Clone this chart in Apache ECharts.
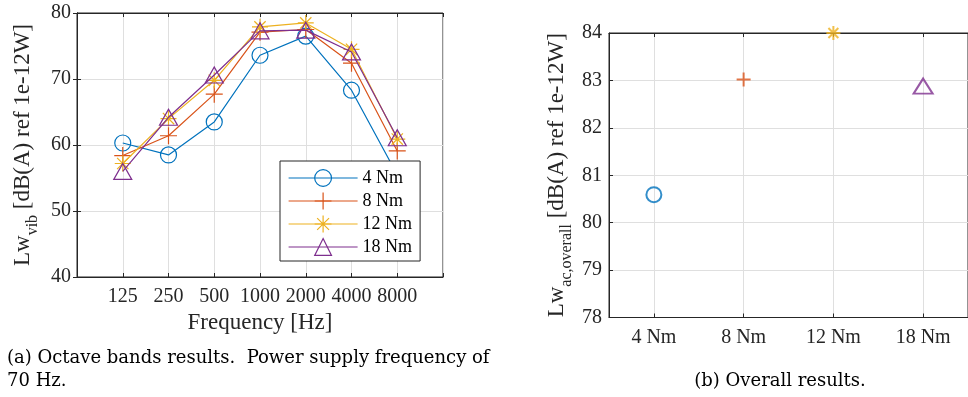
<!DOCTYPE html>
<html>
<head>
<meta charset="utf-8">
<script src="https://cdn.jsdelivr.net/npm/echarts@6/dist/echarts.min.js"></script>
<style>
html,body{margin:0;padding:0;background:#fff;}
#chart{width:968px;height:397px;}
</style>
</head>
<body>
<div id="chart"></div>
<script>
// ---- data ----
const freqs = ['125', '250', '500', '1000', '2000', '4000', '8000'];
const torques = ['4 Nm', '8 Nm', '12 Nm', '18 Nm'];
const lw4  = [60.3, 58.5, 63.5, 73.6, 76.5, 68.3, 55.5];
const lw8  = [58.4, 61.4, 67.7, 77.1, 77.5, 72.4, 59.1];
const lw12 = [57.2, 64.0, 69.8, 77.9, 78.5, 74.5, 60.9];
const lw18 = [56.0, 64.2, 70.6, 77.3, 77.4, 74.1, 61.1];
const overall = [80.59, 83.02, 84.0, 82.88];
const yTicksA = [40, 80, 10];
const yTicksB = [78, 84, 1];

// ---- style ----
const colors = ['#0072BD', '#D95319', '#EDB120', '#7E2F8E'];
const FONT = 'Liberation Serif';
const AX = '#262626';
const GRID = '#dfdfdf';
const PLUS = 'path://M0,-10L0,10M-10,0L10,0';
const STAR = 'path://M0,-10L0,10M-10,0L10,0M-7.07,-7.07L7.07,7.07M-7.07,7.07L7.07,-7.07';
const symbols = ['circle', PLUS, STAR, 'triangle'];
const symSizeA = [16, 17, 16, [18, 16]];
const symSizeB = [15, 14, 14, [19, 15]];
const series4 = [lw4, lw8, lw12, lw18];

// category axis for panel b: half-step slots so grid lines sit at the points
const catB = [''];
torques.forEach(t => { catB.push(t); catB.push(''); });
const odd = (i) => i % 2 === 1;

const chart = echarts.init(document.getElementById('chart'), null, {renderer: 'canvas'});

const series = [];
series4.forEach((arr, k) => {
  series.push({
    name: torques[k],
    type: 'line',
    xAxisIndex: 0, yAxisIndex: 0,
    data: arr.map((v, i) => [i + 1, v]),
    symbol: symbols[k],
    symbolSize: symSizeA[k],
    showSymbol: true,
    lineStyle: {color: colors[k], width: 1.2},
    itemStyle: {color: 'rgba(0,0,0,0)', borderColor: colors[k], borderWidth: 1.2},
    emphasis: {disabled: true},
    animation: false,
    z: 3 + k
  });
});
overall.forEach((v, k) => {
  series.push({
    name: 'overall ' + torques[k],
    type: 'scatter',
    xAxisIndex: 1, yAxisIndex: 1,
    data: [[2 * k + 1, v]],
    symbol: symbols[k],
    symbolSize: symSizeB[k],
    itemStyle: {color: 'rgba(0,0,0,0)', borderColor: colors[k], borderWidth: 2},
    emphasis: {disabled: true},
    animation: false,
    z: 3
  });
});

const tickLbl = {fontFamily: FONT, fontSize: 20, color: AX};
const nameRich = {
  m: {fontFamily: FONT, fontSize: 23, color: AX, lineHeight: 36, verticalAlign: 'middle'},
  s: {fontFamily: FONT, fontSize: 16, color: AX, lineHeight: 14, verticalAlign: 'bottom'}
};

const option = {
  backgroundColor: '#fff',
  animation: false,
  grid: [
    {left: 77, top: 13, width: 366, height: 264, show: true, borderColor: AX, borderWidth: 1, backgroundColor: 'rgba(0,0,0,0)'},
    {left: 609, top: 33, width: 367, height: 284.5, show: true, borderColor: AX, borderWidth: 1, backgroundColor: 'rgba(0,0,0,0)'}
  ],
  xAxis: [
    {
      gridIndex: 0, type: 'value', min: 0, max: freqs.length + 1, interval: 1,
      axisLine: {show: true, lineStyle: {color: AX, width: 1}},
      axisTick: {show: true, inside: true, length: 4, lineStyle: {color: AX}},
      axisLabel: Object.assign({margin: 10, formatter: (v) => freqs[v - 1] || ''}, tickLbl),
      splitLine: {show: true, lineStyle: {color: GRID, width: 1}},
      name: 'Frequency [Hz]', nameLocation: 'middle', nameGap: 34,
      nameTextStyle: {fontFamily: FONT, fontSize: 23, color: AX, lineHeight: 23}
    },
    {
      gridIndex: 1, type: 'category', data: catB, boundaryGap: false,
      axisLine: {show: true, lineStyle: {color: AX, width: 1}},
      axisTick: {show: true, inside: true, length: 4, interval: odd, lineStyle: {color: AX}},
      axisLabel: Object.assign({margin: 10, interval: odd}, tickLbl),
      splitLine: {show: true, interval: odd, lineStyle: {color: GRID, width: 1}}
    },
    {
      gridIndex: 0, type: 'value', position: 'top', min: 0, max: freqs.length + 1, interval: 1,
      axisLine: {show: true, lineStyle: {color: AX}},
      axisTick: {show: true, inside: true, length: 4, lineStyle: {color: AX}},
      axisLabel: {show: false}, splitLine: {show: false}
    },
    {
      gridIndex: 1, type: 'category', position: 'top', data: catB, boundaryGap: false,
      axisLine: {show: true, lineStyle: {color: AX}},
      axisTick: {show: true, inside: true, length: 4, interval: odd, lineStyle: {color: AX}},
      axisLabel: {show: false}, splitLine: {show: false}
    }
  ],
  yAxis: [
    {
      gridIndex: 0, type: 'value', min: yTicksA[0], max: yTicksA[1], interval: yTicksA[2],
      axisLine: {show: true, lineStyle: {color: AX, width: 1}},
      axisTick: {show: true, inside: true, length: 4, lineStyle: {color: AX}},
      axisLabel: Object.assign({margin: 6}, tickLbl),
      splitLine: {show: true, lineStyle: {color: GRID, width: 1}},
      name: '{m|Lw}{s|vib}{m| [dB(A) ref 1e-12W]}', nameLocation: 'middle', nameRotate: 90, nameGap: 36,
      nameTextStyle: {rich: nameRich}
    },
    {
      gridIndex: 1, type: 'value', min: yTicksB[0], max: yTicksB[1], interval: yTicksB[2],
      axisLine: {show: true, lineStyle: {color: AX, width: 1}},
      axisTick: {show: true, inside: true, length: 4, lineStyle: {color: AX}},
      axisLabel: Object.assign({margin: 7}, tickLbl),
      splitLine: {show: true, lineStyle: {color: GRID, width: 1}},
      name: '{m|Lw}{s|ac,overall}{m| [dB(A) ref 1e-12W]}', nameLocation: 'middle', nameRotate: 90, nameGap: 34,
      nameTextStyle: {rich: nameRich}
    },
    {
      gridIndex: 0, type: 'value', position: 'right', min: yTicksA[0], max: yTicksA[1], interval: yTicksA[2],
      axisLine: {show: true, lineStyle: {color: AX}},
      axisTick: {show: true, inside: true, length: 4, lineStyle: {color: AX}},
      axisLabel: {show: false}, splitLine: {show: false}
    }
  ],
  legend: {
    data: torques,
    orient: 'vertical',
    left: 280, top: 161,
    padding: [8, 8, 5, 8],
    itemGap: 5,
    itemWidth: 69,
    itemHeight: 21,
    backgroundColor: '#fff',
    borderColor: AX,
    borderWidth: 1,
    borderRadius: 0,
    selectedMode: false,
    itemStyle: {borderWidth: 1.2},
    lineStyle: {width: 1.2},
    textStyle: {fontFamily: FONT, fontSize: 18, color: '#000'}
  },
  graphic: [
    {
      type: 'text', left: 7, top: 347,
      style: {
        text: '(a) Octave bands results.  Power supply frequency of\n70 Hz.',
        font: '18px "DejaVu Serif"', fill: '#000', lineHeight: 23
      }
    },
    {
      type: 'text', x: 780, y: 381,
      style: {
        text: '(b) Overall results.',
        font: '18px "DejaVu Serif"', fill: '#000',
        textAlign: 'center', textVerticalAlign: 'middle'
      }
    }
  ],
  series: series
};
chart.setOption(option);
</script>
</body>
</html>
